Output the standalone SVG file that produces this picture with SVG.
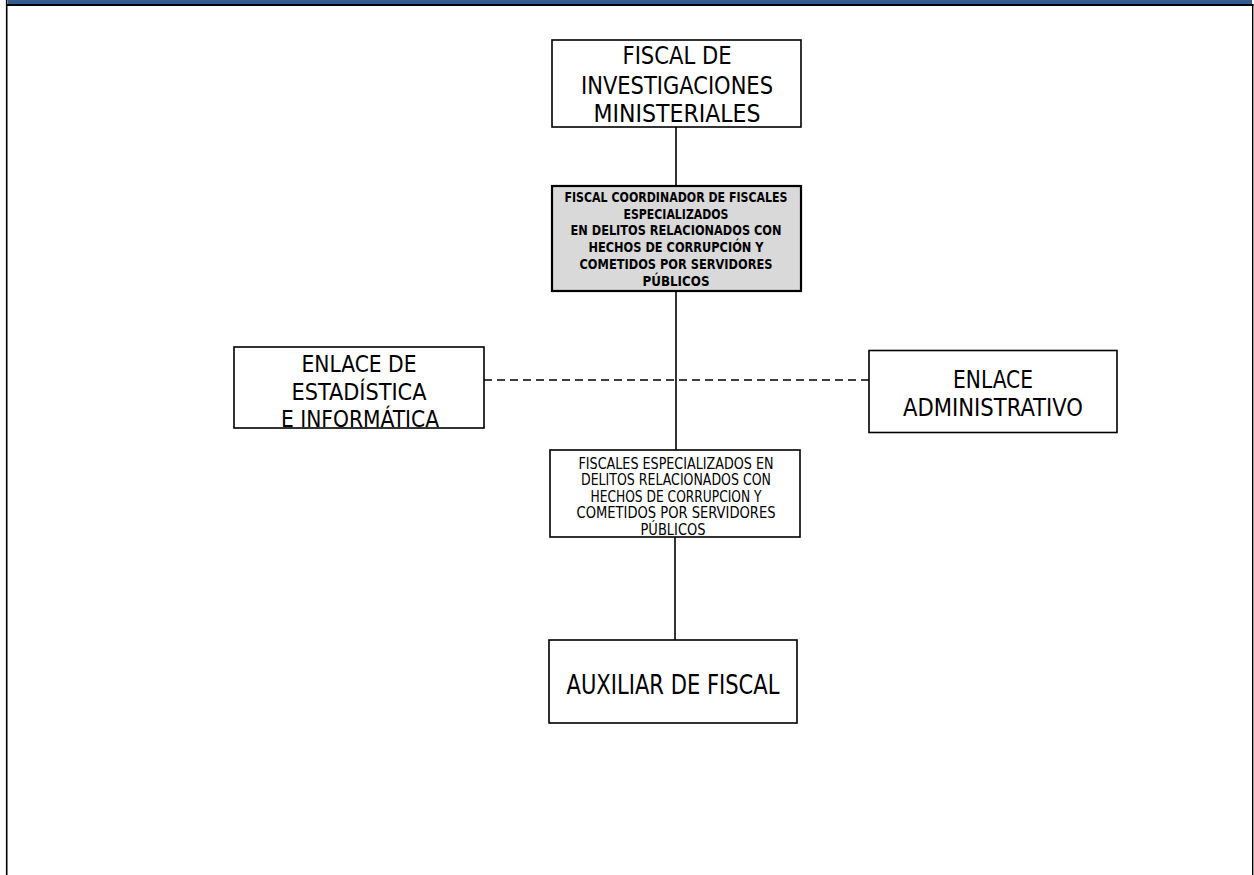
<svg xmlns="http://www.w3.org/2000/svg" width="1254" height="875" viewBox="0 0 1254 875">
<style>
.box{fill:#fff;stroke:#000;stroke-width:1.6}
.gbox{fill:#d9d9d9;stroke:#000;stroke-width:2.2}
.t{font-family:"DejaVu Sans Condensed","DejaVu Sans",sans-serif;font-stretch:condensed;text-anchor:middle;fill:#000}
.tb{font-family:"DejaVu Sans Condensed","DejaVu Sans",sans-serif;font-stretch:condensed;font-weight:bold;text-anchor:middle;fill:#000}
.c{stroke:#000;stroke-width:1.6;fill:none}
.d{stroke:#000;stroke-width:1.6;fill:none;stroke-dasharray:8 5}
</style>
<rect x="0" y="0" width="1254" height="875" fill="#fff"/>
<g id="frame">
<rect x="8" y="0" width="1244" height="4.5" fill="#335b8e"/>
<line x1="6" y1="5" x2="1253.5" y2="5" stroke="#000" stroke-width="2"/>
<line x1="6.7" y1="0" x2="6.7" y2="875" stroke="#000" stroke-width="1.6"/>
<line x1="1252.7" y1="4" x2="1252.7" y2="875" stroke="#000" stroke-width="1.4"/>
</g>
<g id="connectors">
<line class="c" x1="676" y1="127" x2="676" y2="186"/>
<line class="c" x1="676" y1="291" x2="676" y2="450"/>
<line class="c" x1="675" y1="537" x2="675" y2="640"/>
<line class="d" x1="484" y1="380" x2="869" y2="380"/>
</g>
<g id="fiscal-investigaciones">
<rect class="box" x="552" y="40" width="249" height="87"/>
<text class="t" font-size="25" x="677" y="64" textLength="109" lengthAdjust="spacingAndGlyphs">FISCAL DE</text>
<text class="t" font-size="25" x="677" y="94" textLength="192" lengthAdjust="spacingAndGlyphs">INVESTIGACIONES</text>
<text class="t" font-size="25" x="677" y="122" textLength="167" lengthAdjust="spacingAndGlyphs">MINISTERIALES</text>
</g>
<g id="fiscal-coordinador">
<rect class="gbox" x="552" y="186" width="249" height="105"/>
<text class="tb" font-size="14" x="676" y="202" textLength="223" lengthAdjust="spacingAndGlyphs">FISCAL COORDINADOR DE FISCALES</text>
<text class="tb" font-size="14" x="676" y="218.5" textLength="105" lengthAdjust="spacingAndGlyphs">ESPECIALIZADOS</text>
<text class="tb" font-size="14" x="676" y="235" textLength="211" lengthAdjust="spacingAndGlyphs">EN DELITOS RELACIONADOS CON</text>
<text class="tb" font-size="14" x="676" y="252" textLength="175" lengthAdjust="spacingAndGlyphs">HECHOS DE CORRUPCIÓN Y</text>
<text class="tb" font-size="14" x="676" y="268.5" textLength="193" lengthAdjust="spacingAndGlyphs">COMETIDOS POR SERVIDORES</text>
<text class="tb" font-size="14" x="676" y="285.5" textLength="67" lengthAdjust="spacingAndGlyphs">PÚBLICOS</text>
</g>
<g id="enlace-estadistica">
<rect class="box" x="234" y="347" width="250" height="81"/>
<text class="t" font-size="23" x="359" y="371.5" textLength="115" lengthAdjust="spacingAndGlyphs">ENLACE DE</text>
<text class="t" font-size="23" x="359" y="399.5" textLength="135" lengthAdjust="spacingAndGlyphs">ESTADÍSTICA</text>
<text class="t" font-size="23" x="360" y="427" textLength="158" lengthAdjust="spacingAndGlyphs">E INFORMÁTICA</text>
</g>
<g id="enlace-administrativo">
<rect class="box" x="869" y="350.5" width="248" height="82"/>
<text class="t" font-size="25" x="993" y="388" textLength="80" lengthAdjust="spacingAndGlyphs">ENLACE</text>
<text class="t" font-size="25" x="993" y="416" textLength="180" lengthAdjust="spacingAndGlyphs">ADMINISTRATIVO</text>
</g>
<g id="fiscales-especializados">
<rect class="box" x="550" y="450" width="250" height="87"/>
<text class="t" font-size="15.5" x="676" y="468.5" textLength="195" lengthAdjust="spacingAndGlyphs">FISCALES ESPECIALIZADOS EN</text>
<text class="t" font-size="15.5" x="676" y="485" textLength="190" lengthAdjust="spacingAndGlyphs">DELITOS RELACIONADOS CON</text>
<text class="t" font-size="15.5" x="676" y="501.5" textLength="171" lengthAdjust="spacingAndGlyphs">HECHOS DE CORRUPCION Y</text>
<text class="t" font-size="15.5" x="676" y="518" textLength="199" lengthAdjust="spacingAndGlyphs">COMETIDOS POR SERVIDORES</text>
<text class="t" font-size="15.5" x="673" y="535" textLength="65" lengthAdjust="spacingAndGlyphs">PÚBLICOS</text>
</g>
<g id="auxiliar-fiscal">
<rect class="box" x="549" y="640" width="248" height="83"/>
<text class="t" font-size="26" x="673" y="694" textLength="213" lengthAdjust="spacingAndGlyphs">AUXILIAR DE FISCAL</text>
</g>
</svg>
